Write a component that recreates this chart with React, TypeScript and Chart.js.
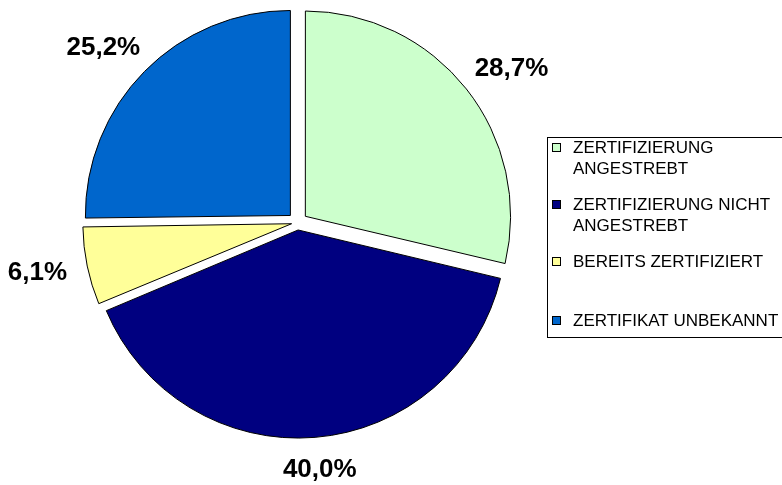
import React, { useEffect, useRef } from "react";
import { Chart, registerables } from "chart.js";

Chart.register(...registerables);

const categories = [
  "ZERTIFIZIERUNG ANGESTREBT",
  "ZERTIFIZIERUNG NICHT ANGESTREBT",
  "BEREITS ZERTIFIZIERT",
  "ZERTIFIKAT UNBEKANNT",
];
const legendLines = [
  ["ZERTIFIZIERUNG", "ANGESTREBT"],
  ["ZERTIFIZIERUNG NICHT", "ANGESTREBT"],
  ["BEREITS ZERTIFIZIERT"],
  ["ZERTIFIKAT UNBEKANNT"],
];
const values = [28.7, 40.0, 6.1, 25.2];
const colors = ["#CCFFCC", "#000080", "#FFFF99", "#0066CC"];
const sliceOffsets = [40, 30, 24, 40];

const FONT = '"Liberation Sans", Arial, sans-serif';

const labelPlugin = {
  id: "pctLabels",
  afterDatasetsDraw(chart: any) {
    const ctx = chart.ctx;
    const meta = chart.getDatasetMeta(0);
    ctx.save();
    ctx.font = `bold 26px ${FONT}`;
    ctx.fillStyle = "#000";
    ctx.textAlign = "center";
    ctx.textBaseline = "middle";
    meta.data.forEach((arc: any, i: number) => {
      const a = (arc.startAngle + arc.endAngle) / 2;
      const ux = Math.cos(a);
      const uy = Math.sin(a);
      const text = values[i].toFixed(1).replace(".", ",") + "%";
      const hw = ctx.measureText(text).width / 2;
      const d = arc.outerRadius + 31;
      const x = arc.x + ux * d + hw * ux;
      const y = arc.y + uy * d + 12 * uy;
      ctx.fillText(text, x, y);
    });
    ctx.restore();
  },
};

const legendPlugin = {
  id: "boxLegend",
  afterDraw(chart: any) {
    const ctx = chart.ctx;
    const left = 547.5;
    const top = 137.5;
    const bottom = 337.5;
    ctx.save();
    ctx.strokeStyle = "#000";
    ctx.lineWidth = 1;
    ctx.strokeRect(left, top, 260, bottom - top);
    const itemY = [148, 205, 262, 321];
    ctx.font = `17px ${FONT}`;
    ctx.textAlign = "left";
    ctx.textBaseline = "middle";
    legendLines.forEach((lines, i) => {
      const y = itemY[i];
      ctx.fillStyle = colors[i];
      ctx.fillRect(552.5, y - 4.5, 8, 8);
      ctx.strokeRect(552.5, y - 4.5, 8, 8);
      ctx.fillStyle = "#000";
      lines.forEach((t, j) => {
        ctx.fillText(t, 573, y + j * 21);
      });
    });
    ctx.restore();
  },
};

export default function App() {
  const ref = useRef<HTMLCanvasElement | null>(null);
  useEffect(() => {
    if (!ref.current) return;
    const chart = new Chart(ref.current, {
      type: "pie",
      data: {
        labels: categories,
        datasets: [
          {
            data: values,
            backgroundColor: colors,
            borderColor: "#000",
            borderWidth: 1,
            offset: sliceOffsets,
            radius: 205,
          } as any,
        ],
      },
      options: {
        responsive: false,
        animation: false,
        layout: { padding: { top: 0, left: 0, right: 187, bottom: 40 } },
        plugins: {
          legend: { display: false },
          tooltip: { enabled: false },
        },
      },
      plugins: [labelPlugin, legendPlugin],
    });
    return () => chart.destroy();
  }, []);
  return (
    <div style={{ position: "fixed", left: 0, top: 0, width: 782, height: 485, background: "#fff" }}>
      <canvas ref={ref} width={782} height={485} />
    </div>
  );
}
